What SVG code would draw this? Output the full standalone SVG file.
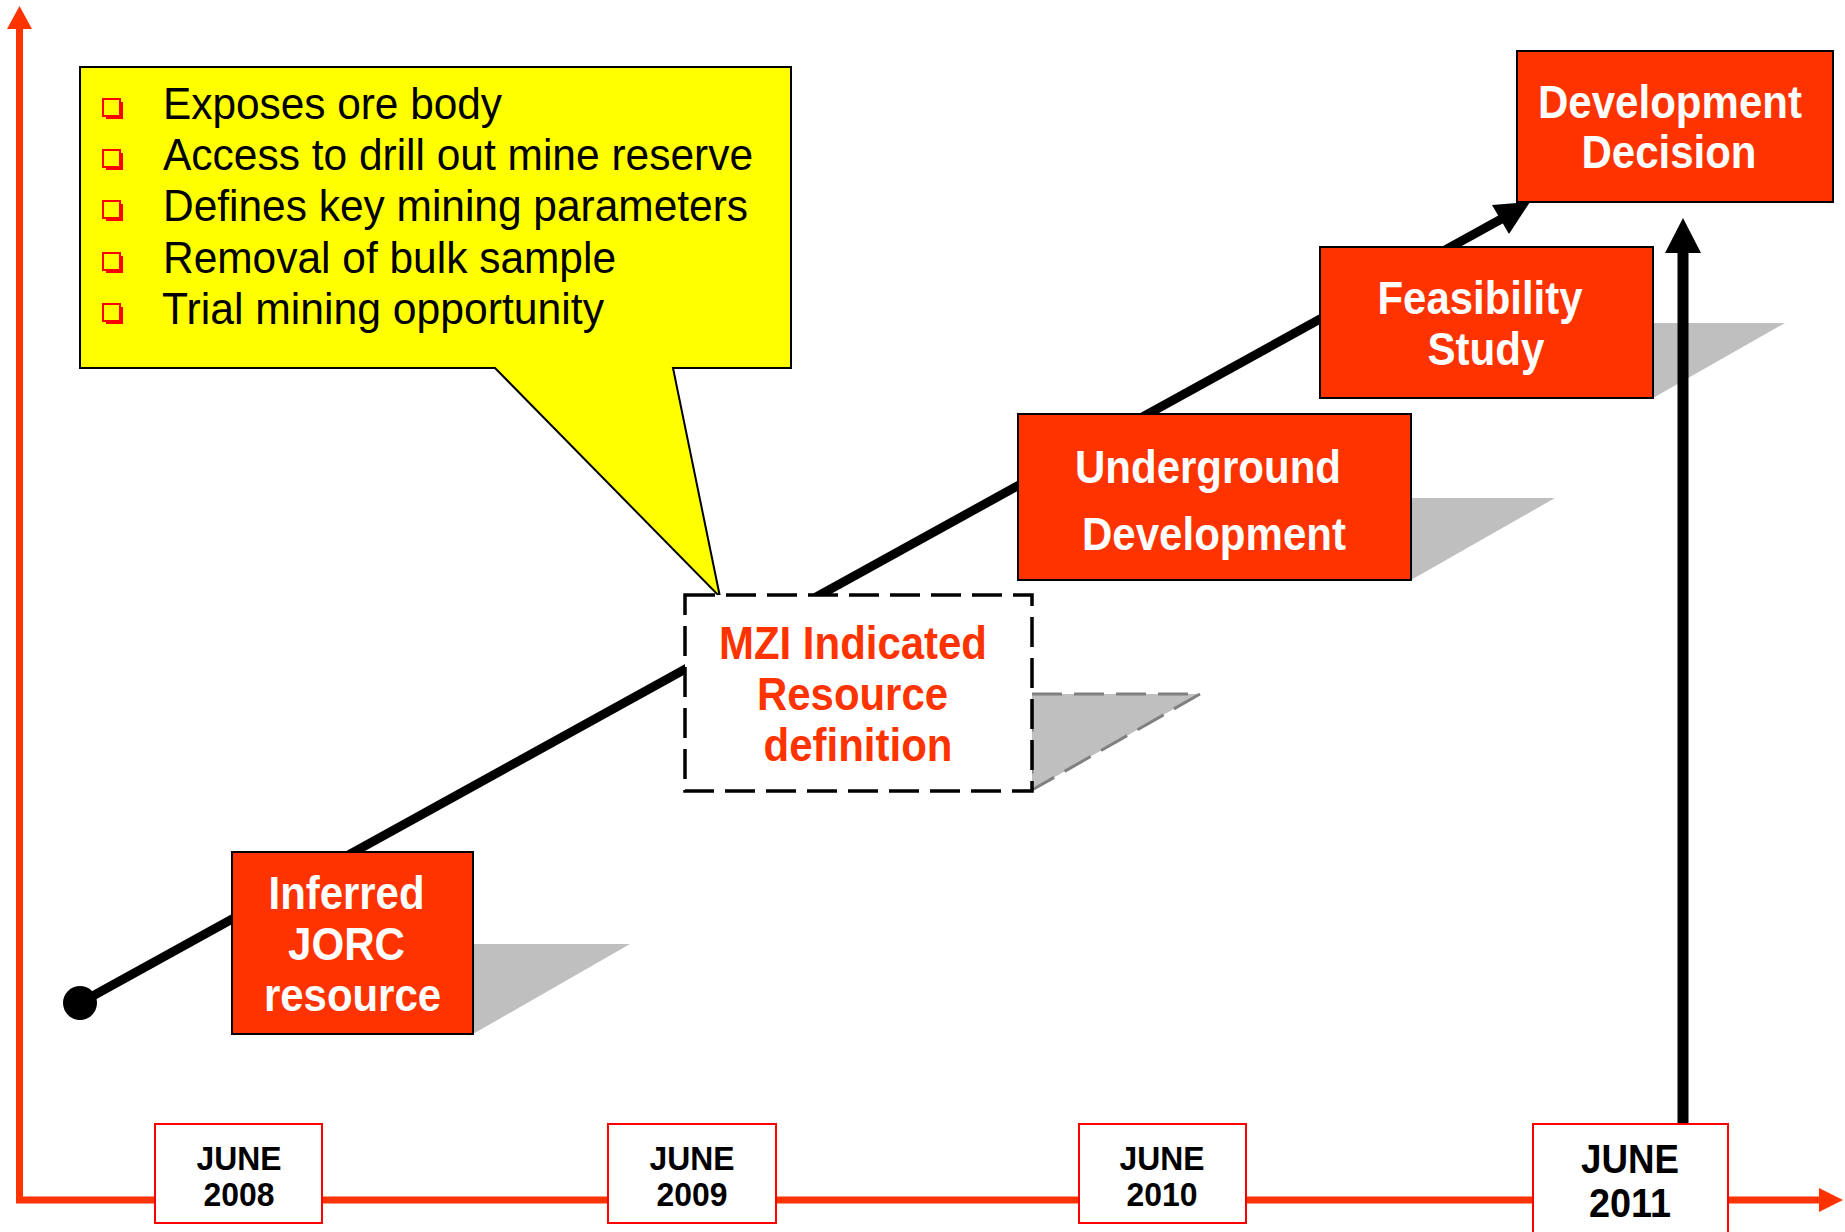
<svg xmlns="http://www.w3.org/2000/svg" width="1845" height="1232" viewBox="0 0 1845 1232">
  <style>
    text { font-family: "Liberation Sans", Arial, sans-serif; }
    .box { fill: #FF3300; stroke: #000000; stroke-width: 2; }
    .shadow { fill: #BFBFBF; stroke: none; }
    .lbl { fill: #FFFFFF; font-size: 46px; font-weight: bold; text-anchor: middle; }
    .mzi { fill: #FF3300; font-size: 46px; font-weight: bold; text-anchor: middle; }
    .date { fill: #FFFFFF; stroke: #FF0000; stroke-width: 2; }
    .dt { fill: #000000; font-size: 33px; font-weight: bold; text-anchor: middle; }
    .dt2 { fill: #000000; font-size: 40px; font-weight: bold; text-anchor: middle; }
    .item { fill: #000000; font-size: 44px; }
    .bul { fill: #FFFF00; stroke: #FF0000; stroke-width: 2; }
    .bulsh { fill: #FF0000; stroke: none; }
    .axis { stroke: #FF3300; stroke-width: 7; fill: none; }
  </style>

  <!-- axes -->
  <g id="axes">
    <polyline class="axis" points="19.5,28 19.5,1200 1822,1200"/>
    <polygon points="19.5,6 7,29 32,29" fill="#FF3300"/>
    <polygon points="1843,1200 1819,1188 1819,1212" fill="#FF3300"/>
  </g>

  <!-- shadows -->
  <g id="shadows">
    <polygon class="shadow" points="473,944 630,944 473,1034"/>
    <polygon points="1032,694 1200,694 1032,790" fill="#BFBFBF" stroke="#808080" stroke-width="3" stroke-dasharray="30 12"/>
    <polygon class="shadow" points="1411,498 1555,498 1411,580"/>
    <polygon class="shadow" points="1653,323 1785,323 1653,398"/>
  </g>

  <!-- connectors -->
  <g id="connectors">
    <line x1="80" y1="1003" x2="1505" y2="217" stroke="#000000" stroke-width="9"/>
    <circle cx="80" cy="1003" r="17" fill="#000000"/>
    <polygon points="1530,202 1492,205 1509,234" fill="#000000"/>
    <line x1="1683" y1="1124" x2="1683" y2="250" stroke="#000000" stroke-width="11"/>
    <polygon points="1683,218 1665,253 1701,253" fill="#000000"/>
  </g>

  <!-- callout -->
  <g id="callout">
    <polygon points="80,67 791,67 791,368 673,368 720,597 495,368 80,368" fill="#FFFF00" stroke="#000000" stroke-width="2"/>
    <g>
      <rect class="bulsh" x="106" y="102" width="17" height="17"/>
      <rect class="bul" x="103" y="99" width="17" height="17"/>
      <rect class="bulsh" x="106" y="153" width="17" height="17"/>
      <rect class="bul" x="103" y="150" width="17" height="17"/>
      <rect class="bulsh" x="106" y="204" width="17" height="17"/>
      <rect class="bul" x="103" y="201" width="17" height="17"/>
      <rect class="bulsh" x="106" y="256" width="17" height="17"/>
      <rect class="bul" x="103" y="253" width="17" height="17"/>
      <rect class="bulsh" x="106" y="307" width="17" height="17"/>
      <rect class="bul" x="103" y="304" width="17" height="17"/>
    </g>
    <text class="item" x="163" y="119" textLength="339" lengthAdjust="spacingAndGlyphs">Exposes ore body</text>
    <text class="item" x="163" y="170" textLength="590" lengthAdjust="spacingAndGlyphs">Access to drill out mine reserve</text>
    <text class="item" x="163" y="221" textLength="585" lengthAdjust="spacingAndGlyphs">Defines key mining parameters</text>
    <text class="item" x="163" y="273" textLength="453" lengthAdjust="spacingAndGlyphs">Removal of bulk sample</text>
    <text class="item" x="162" y="324" textLength="442" lengthAdjust="spacingAndGlyphs">Trial mining opportunity</text>
  </g>

  <!-- nodes -->
  <g id="node-inferred">
    <rect class="box" x="232" y="852" width="241" height="182"/>
    <text class="lbl" x="346.5" y="909" textLength="156" lengthAdjust="spacingAndGlyphs">Inferred</text>
    <text class="lbl" x="346.5" y="960" textLength="117" lengthAdjust="spacingAndGlyphs">JORC</text>
    <text class="lbl" x="352.5" y="1011" textLength="177" lengthAdjust="spacingAndGlyphs">resource</text>
  </g>

  <g id="node-mzi">
    <rect x="685" y="595" width="347" height="196" fill="#FFFFFF" stroke="#000000" stroke-width="3.5" stroke-dasharray="30 11"/>
    <text class="mzi" x="853" y="659" textLength="268" lengthAdjust="spacingAndGlyphs">MZI Indicated</text>
    <text class="mzi" x="852.5" y="710" textLength="191" lengthAdjust="spacingAndGlyphs">Resource</text>
    <text class="mzi" x="858" y="761" textLength="189" lengthAdjust="spacingAndGlyphs">definition</text>
  </g>

  <g id="node-underground">
    <rect class="box" x="1018" y="414" width="393" height="166"/>
    <text class="lbl" x="1208" y="483" textLength="266" lengthAdjust="spacingAndGlyphs">Underground</text>
    <text class="lbl" x="1214" y="550" textLength="264" lengthAdjust="spacingAndGlyphs">Development</text>
  </g>

  <g id="node-feasibility">
    <rect class="box" x="1320" y="247" width="333" height="151"/>
    <text class="lbl" x="1480" y="314" textLength="205" lengthAdjust="spacingAndGlyphs">Feasibility</text>
    <text class="lbl" x="1486" y="365" textLength="117" lengthAdjust="spacingAndGlyphs">Study</text>
  </g>

  <g id="node-decision">
    <rect class="box" x="1517" y="51" width="316" height="151"/>
    <text class="lbl" x="1670" y="118" textLength="264" lengthAdjust="spacingAndGlyphs">Development</text>
    <text class="lbl" x="1669" y="168" textLength="175" lengthAdjust="spacingAndGlyphs">Decision</text>
  </g>

  <!-- date markers -->
  <g id="date-2008">
    <rect class="date" x="155" y="1124" width="167" height="99"/>
    <text class="dt" x="239" y="1170" textLength="85" lengthAdjust="spacingAndGlyphs">JUNE</text>
    <text class="dt" x="239" y="1206" textLength="71" lengthAdjust="spacingAndGlyphs">2008</text>
  </g>
  <g id="date-2009">
    <rect class="date" x="608" y="1124" width="168" height="99"/>
    <text class="dt" x="692" y="1170" textLength="85" lengthAdjust="spacingAndGlyphs">JUNE</text>
    <text class="dt" x="692" y="1206" textLength="71" lengthAdjust="spacingAndGlyphs">2009</text>
  </g>
  <g id="date-2010">
    <rect class="date" x="1079" y="1124" width="167" height="99"/>
    <text class="dt" x="1162" y="1170" textLength="85" lengthAdjust="spacingAndGlyphs">JUNE</text>
    <text class="dt" x="1162" y="1206" textLength="71" lengthAdjust="spacingAndGlyphs">2010</text>
  </g>
  <g id="date-2011">
    <rect class="date" x="1533" y="1124" width="195" height="120"/>
    <text class="dt2" x="1630" y="1173" textLength="98" lengthAdjust="spacingAndGlyphs">JUNE</text>
    <text class="dt2" x="1630" y="1217" textLength="82" lengthAdjust="spacingAndGlyphs">2011</text>
  </g>
</svg>
